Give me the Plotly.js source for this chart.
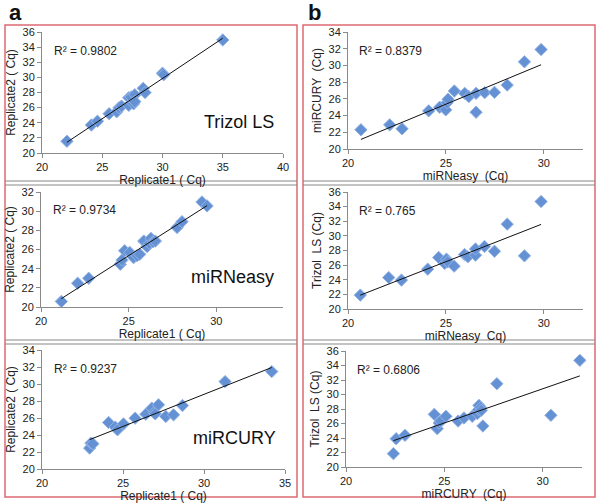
<!DOCTYPE html>
<html><head><meta charset="utf-8">
<script src="https://cdn.plot.ly/plotly-3.0.1.min.js"></script>
<style>html,body{margin:0;padding:0;background:#fff}#chart{width:600px;height:504px}</style>
</head><body><div id="chart"></div>
<script>
// Panel a1: Trizol LS replicate 1 vs replicate 2
const trizolRep1 = [22.07,24.1,24.6,25.57,26.2,26.4,26.6,27.2,27.2,27.4,27.6,27.7,27.7,28.4,28.55,30.0,30.1,35.0];
const trizolRep2 = [21.55,23.7,24.2,25.2,25.45,26.0,26.2,27.3,26.3,27.4,26.5,27.7,26.8,28.55,28.0,30.55,30.35,34.95];
// Panel a2: miRNeasy replicates
const mirneasyRep1 = [21.16,22.09,22.72,24.52,24.62,24.77,25.06,25.28,25.48,25.63,25.86,26.05,26.18,26.27,26.39,26.52,27.76,28.04,29.18,29.47];
const mirneasyRep2 = [20.58,22.48,23.0,24.46,24.9,25.87,25.7,25.15,25.36,25.5,26.88,26.3,26.64,27.16,26.8,26.88,28.3,28.9,30.96,30.55];
// Panel a3: miRCURY replicates
const mircuryRep1 = [22.94,23.02,23.14,24.11,24.52,24.66,25.03,25.75,26.41,26.78,26.92,26.99,27.19,27.64,28.12,28.67,31.30,34.18];
const mircuryRep2 = [22.46,23.05,22.97,25.47,24.93,24.61,25.3,25.98,26.45,27.16,26.65,26.49,27.55,26.18,26.37,27.47,30.28,31.46];
// Panel b1: miRNeasy vs miRCURY
const b1Mirneasy = [20.66,22.13,22.76,24.12,24.68,24.99,25.06,25.11,25.43,25.96,26.17,26.54,26.54,26.98,27.48,28.13,29.01,29.86];
const b1Mircury  = [22.3,22.89,22.42,24.56,25.0,24.68,25.55,25.95,26.94,26.66,26.27,24.4,26.66,26.74,26.78,27.65,30.43,31.9];
// Panel b2: miRNeasy vs Trizol LS
const b2Mirneasy = [20.63,22.08,22.73,24.07,24.63,24.94,25.03,25.09,25.42,25.95,26.12,26.51,26.51,26.97,27.48,28.13,29.01,29.86];
const b2Trizol   = [21.9,24.3,23.95,25.45,27.05,26.23,26.82,26.45,25.86,27.45,27.14,27.36,28.2,28.55,27.9,31.6,27.27,34.7];
// Panel b3: miRCURY vs Trizol LS
const b3Mircury = [22.41,22.55,23.0,24.49,24.64,24.74,24.81,25.08,25.70,26.0,26.42,26.68,26.74,26.76,26.85,26.88,26.96,27.67,30.42,31.89];
const b3Trizol  = [21.84,23.9,24.37,27.26,25.29,26.07,26.34,26.99,26.34,26.76,26.99,27.36,27.91,28.5,28.18,27.82,25.66,31.49,27.13,34.71];

const r2Labels = ['R² = 0.9802','R² = 0.9734','R² = 0.9237','R² = 0.8379','R² = 0.765','R² = 0.6806'];
const methodLabels = ['Trizol LS','miRNeasy','miRCURY'];
const xTitles = ['Replicate1 ( Cq)','Replicate1 ( Cq)','Replicate1 ( Cq)','miRNeasy  (Cq)','miRNeasy  Cq)','miRCURY  (Cq)'];
const yTitles = ['Replicate2 ( Cq)','Replicate2 ( Cq)','Replicate2 ( Cq)','miRCURY  (Cq)','Trizol  LS (Cq)','Trizol  LS (Cq)'];
const xRanges = [[20,40],[20,33.8],[20,35],[20,32],[20,32],[20,32]];
const yRanges = [[20,36],[20,32],[20,34],[20,34],[20,36],[20,36]];

const W = 600, H = 504;
const px = v => v / W, py = v => 1 - v / H;
// plot-area rectangles in pixels [x0, x1, yTop, yBottom]
const areas = [[42,283,32,153],[41,283,192,307],[42,285,350,469],[348,583,32,149],[348,583,192,309],[346,582,351,467]];
const panels = [[trizolRep1,trizolRep2],[mirneasyRep1,mirneasyRep2],[mircuryRep1,mircuryRep2],[b1Mirneasy,b1Mircury],[b2Mirneasy,b2Trizol],[b3Mircury,b3Trizol]];

function fit(x, y) {
  const n = x.length;
  const mx = x.reduce((a,b)=>a+b,0)/n, my = y.reduce((a,b)=>a+b,0)/n;
  let sxy = 0, sxx = 0;
  for (let i=0;i<n;i++){ sxy += (x[i]-mx)*(y[i]-my); sxx += (x[i]-mx)**2; }
  const m = sxy/sxx; return [m, my - m*mx];
}

const font = 'Liberation Sans, Arial, sans-serif';
const traces = [], layout = {
  width: W, height: H, margin:{l:0,r:0,t:0,b:0}, showlegend:false,
  paper_bgcolor:'#fff', plot_bgcolor:'#fff', font:{family:font, color:'#222', size:11},
  shapes:[], annotations:[]
};

panels.forEach((p, i) => {
  const k = i === 0 ? '' : String(i+1);
  const xa = 'x'+k, ya = 'y'+k;
  const [x, y] = p;
  const [m, b] = fit(x, y);
  const xmin = Math.min(...x), xmax = Math.max(...x);
  traces.push({x, y, type:'scatter', mode:'markers', xaxis:xa, yaxis:ya, cliponaxis:false,
    marker:{symbol:'diamond', size:9.5, color:'#6491d4', line:{color:'#94b4e4', width:1}}, hoverinfo:'skip'});
  traces.push({x:[xmin,xmax], y:[m*xmin+b, m*xmax+b], type:'scatter', mode:'lines', xaxis:xa, yaxis:ya,
    line:{color:'#111', width:1}, hoverinfo:'skip'});
  const a = areas[i];
  const axBase = {showgrid:false, zeroline:false, showline:true, linecolor:'#8a8a8a', linewidth:1,
    ticks:'outside', ticklen:4, tickcolor:'#8a8a8a', tickfont:{size:11, color:'#222', family:font}};
  layout['xaxis'+k] = Object.assign({}, axBase, {domain:[px(a[0]), px(a[1])], range:xRanges[i], dtick:5, tick0:20,
    anchor:ya, title:{text:xTitles[i], font:{size:12, color:'#222'}, standoff:0}});
  layout['yaxis'+k] = Object.assign({}, axBase, {domain:[py(a[3]), py(a[2])], range:yRanges[i], dtick:2, tick0:20,
    anchor:xa, title:{text:yTitles[i], font:{size:12, color:'#222'}, standoff:4}});
  layout.annotations.push({text:r2Labels[i], xref:xa+' domain', yref:ya+' domain', x:0.04, y:0.84,
    xanchor:'left', yanchor:'middle', showarrow:false, font:{size:12, color:'#222'}});
  if (i < 3) layout.annotations.push({text:methodLabels[i], xref:xa+' domain', yref:ya+' domain', x:0.97, y:0.26,
    xanchor:'right', yanchor:'middle', showarrow:false, font:{size:18, color:'#111'}});
});

// panel letters
layout.annotations.push({text:'<b>a</b>', xref:'paper', yref:'paper', x:px(7), y:py(12), xanchor:'left', yanchor:'middle', showarrow:false, font:{size:22, color:'#111'}});
layout.annotations.push({text:'<b>b</b>', xref:'paper', yref:'paper', x:px(306), y:py(12), xanchor:'left', yanchor:'middle', showarrow:false, font:{size:22, color:'#111'}});

// frames and separators
[[5,297],[303,595]].forEach(([x0,x1]) => {
  layout.shapes.push({type:'rect', xref:'paper', yref:'paper', x0:px(x0), x1:px(x1), y0:py(497), y1:py(25),
    line:{color:'#dd6a73', width:1.5}, fillcolor:'rgba(0,0,0,0)'});
  [181,185,340,344].forEach(yy => layout.shapes.push({type:'line', xref:'paper', yref:'paper',
    x0:px(x0), x1:px(x1), y0:py(yy), y1:py(yy), line:{color:'#888', width:1}}));
});

Plotly.newPlot('chart', traces, layout, {staticPlot:true, displayModeBar:false});
</script></body></html>
